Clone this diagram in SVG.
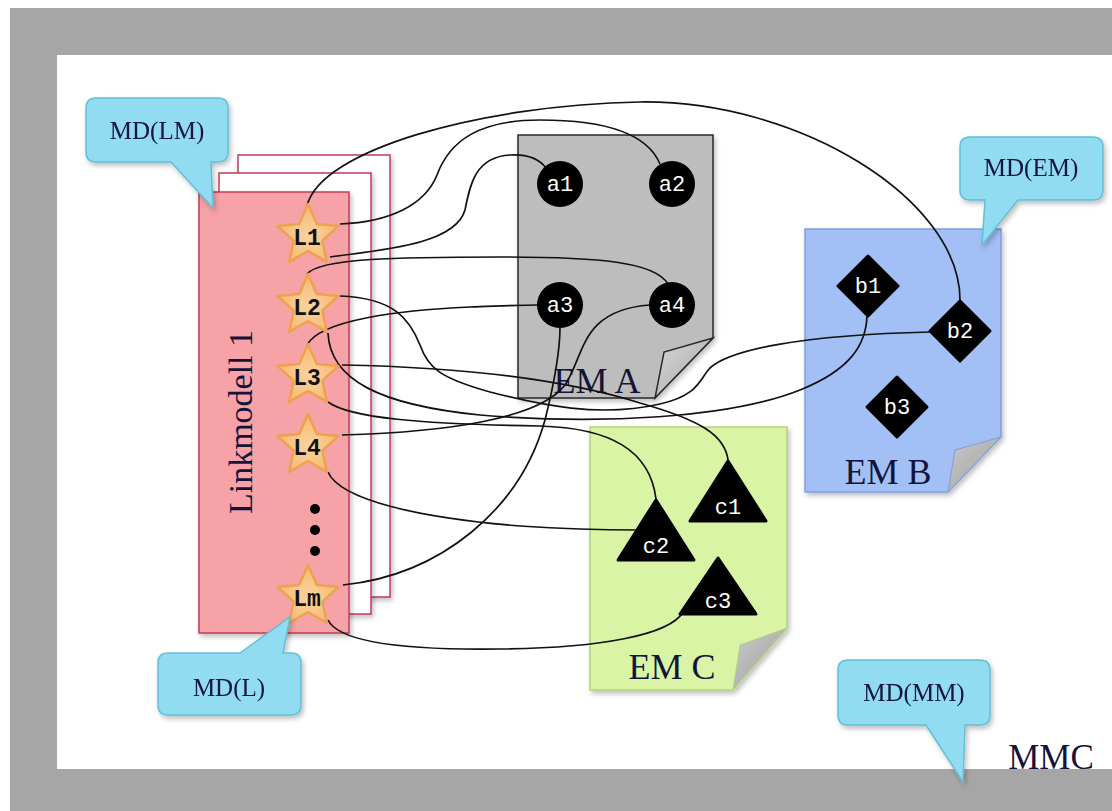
<svg xmlns="http://www.w3.org/2000/svg" width="1112" height="811" viewBox="0 0 1112 811">
<defs>
<style>
.lbl{font-family:"Liberation Serif","Times New Roman",serif;fill:#14143a}
.md{font-size:25px;text-anchor:middle}
.em{font-size:36px;text-anchor:middle}
.mono{font-family:"Liberation Mono","Courier New",monospace;text-anchor:middle}
.wl{fill:#ffffff;font-size:22px}
.sl{fill:#111;font-size:23px;font-weight:bold}
.con{fill:none;stroke:#111;stroke-width:1.7}
.call{fill:#92dcf2;stroke:#62bfd6;stroke-width:1.5}
.star{stroke:#eea24e;stroke-width:2.5;stroke-linejoin:round}
.page{stroke:#c23a5c;stroke-width:1.5}
.blk{fill:#000;stroke:#000;stroke-width:3;stroke-linejoin:round}
</style>
<filter id="sh" x="-10%" y="-10%" width="130%" height="130%">
<feDropShadow dx="2" dy="3" stdDeviation="2.5" flood-color="#000" flood-opacity="0.25"/>
</filter>
<linearGradient id="flapA" x1="0" y1="0" x2="1" y2="1"><stop offset="0" stop-color="#d6d6d6"/><stop offset="1" stop-color="#a8a8a8"/></linearGradient>
<linearGradient id="flapB" x1="0" y1="0" x2="1" y2="1"><stop offset="0" stop-color="#c9c9c9"/><stop offset="1" stop-color="#a0a0a0"/></linearGradient>
<radialGradient id="starG" cx="0.5" cy="0.55" r="0.6"><stop offset="0" stop-color="#fbd39e"/><stop offset="1" stop-color="#f4b56e"/></radialGradient>
<polygon id="starP" points="0,-32 8.8,-12.1 30.4,-9.9 14.3,4.6 18.8,25.9 0,15 -18.8,25.9 -14.3,4.6 -30.4,-9.9 -8.8,-12.1"/>
</defs>

<g id="frame">
<rect x="0" y="0" width="1112" height="811" fill="#ffffff"/>
<rect x="10" y="8" width="1102" height="803" fill="#a6a6a6"/>
<rect x="57" y="55" width="1055" height="714" fill="#ffffff"/>
<text class="lbl" x="1051" y="769" font-size="35" text-anchor="middle">MMC</text>
</g>

<g id="linkmodell">
<rect class="page" x="238" y="155" width="152" height="442" fill="#ffffff" filter="url(#sh)"/>
<rect class="page" x="219" y="173" width="152" height="441" fill="#ffffff" filter="url(#sh)"/>
<rect class="page" x="199" y="192" width="150" height="441" fill="#f6a2a6" filter="url(#sh)"/>
<text class="lbl" font-size="34" text-anchor="middle" transform="translate(252,422) rotate(-90)">Linkmodell 1</text>
<circle cx="315" cy="509" r="5" fill="#000"/>
<circle cx="315" cy="530" r="5" fill="#000"/>
<circle cx="315" cy="551" r="5" fill="#000"/>
</g>

<g id="emA">
<path d="M518,135 H713 V338 L655,398 H518 Z" fill="#bdbdbd" stroke="#2a2a2a" stroke-width="1.5" filter="url(#sh)"/>
<path d="M713,338 L664,352 L655,398 Z" fill="url(#flapA)" stroke="#2a2a2a" stroke-width="1.5"/>
<text class="lbl em" x="597" y="393">EM A</text>
</g>

<g id="emB">
<path d="M805,229 H1001 V437 L948,492 H805 Z" fill="#a2c0f6" stroke="#7f9fdc" stroke-width="1.5" filter="url(#sh)"/>
<path d="M1001,437 L955,450 L948,492 Z" fill="url(#flapB)" stroke="#7f9fdc" stroke-width="1"/>
<text class="lbl em" x="888" y="484">EM B</text>
</g>

<g id="emC">
<path d="M590,427 H787 V628 L733,690 H590 Z" fill="#d8f4a4" stroke="#b2d47a" stroke-width="1.5" filter="url(#sh)"/>
<path d="M787,628 L740,645 L733,690 Z" fill="url(#flapB)" stroke="#b2d47a" stroke-width="1"/>
<text class="lbl em" x="672" y="679">EM C</text>
</g>

<g id="connectors">
<path class="con" d="M307,206 C 320,150 480,105 640,102 C 800,100 960,200 960,300"/>
<path class="con" d="M340,224 C 390,222 425,205 437,175 C 450,140 480,120 540,120 C 610,120 648,135 660,164"/>
<path class="con" d="M330,257 C 380,250 455,245 465,210 C 470,185 475,157 510,155 C 528,154 540,160 546,168"/>
<path class="con" d="M307,274 C 320,258 400,257 500,257 C 600,257 655,262 668,284"/>
<path class="con" d="M340,296 C 395,298 410,320 420,345 C 428,368 440,378 490,392 C 540,405 600,418 660,404 C 700,395 700,378 710,368 C 730,350 800,335 930,332"/>
<path class="con" d="M328,333 C 330,380 380,405 480,415 C 600,425 730,418 800,390 C 850,370 866,345 867,316"/>
<path class="con" d="M307,345 C 320,320 400,310 470,307 C 500,306 520,305 538,305"/>
<path class="con" d="M342,365 C 450,367 560,378 640,403 C 700,420 725,435 728,460"/>
<path class="con" d="M328,402 C 350,418 420,424 540,426 C 610,428 650,450 656,499"/>
<path class="con" d="M342,435 C 450,432 540,418 565,385 C 585,355 580,310 650,305"/>
<path class="con" d="M328,472 C 340,500 420,518 520,526 C 580,530 620,530 638,530"/>
<path class="con" d="M343,585 C 440,575 520,510 545,420 C 555,380 560,350 560,327"/>
<path class="con" d="M328,620 C 340,645 420,650 500,649 C 600,648 670,635 683,612"/>
</g>

<g id="L1"><use href="#starP" transform="translate(308,236)" class="star" fill="url(#starG)"/><text class="mono sl" x="307" y="245">L1</text></g>
<g id="L2"><use href="#starP" transform="translate(308,306)" class="star" fill="url(#starG)"/><text class="mono sl" x="307" y="315">L2</text></g>
<g id="L3"><use href="#starP" transform="translate(308,376)" class="star" fill="url(#starG)"/><text class="mono sl" x="307" y="385">L3</text></g>
<g id="L4"><use href="#starP" transform="translate(308,446)" class="star" fill="url(#starG)"/><text class="mono sl" x="307" y="455">L4</text></g>
<g id="Lm"><use href="#starP" transform="translate(308,597)" class="star" fill="url(#starG)"/><text class="mono sl" x="307" y="606">Lm</text></g>

<g id="a1"><circle cx="560" cy="184" r="23" fill="#000"/><text class="mono wl" x="560" y="191">a1</text></g>
<g id="a2"><circle cx="672" cy="184" r="23" fill="#000"/><text class="mono wl" x="672" y="191">a2</text></g>
<g id="a3"><circle cx="560" cy="305" r="23" fill="#000"/><text class="mono wl" x="560" y="312">a3</text></g>
<g id="a4"><circle cx="672" cy="305" r="23" fill="#000"/><text class="mono wl" x="672" y="312">a4</text></g>

<g id="b1"><polygon class="blk" points="868,256 898,286 868,316 838,286"/><text class="mono wl" x="868" y="293">b1</text></g>
<g id="b2"><polygon class="blk" points="960,301 990,331 960,361 930,331"/><text class="mono wl" x="960" y="338">b2</text></g>
<g id="b3"><polygon class="blk" points="897,377 927,407 897,437 867,407"/><text class="mono wl" x="897" y="414">b3</text></g>

<g id="c1"><polygon class="blk" points="728,461 766,521 690,521"/><text class="mono wl" x="728" y="514">c1</text></g>
<g id="c2"><polygon class="blk" points="656,500 694,560 618,560"/><text class="mono wl" x="656" y="553">c2</text></g>
<g id="c3"><polygon class="blk" points="718,558 756,614 680,614"/><text class="mono wl" x="718" y="608">c3</text></g>

<g id="mdLM" filter="url(#sh)"><path class="call" d="M96,98 H218 Q228,98 228,108 V152 Q228,162 218,162 H211 L213,208 L171,162 H96 Q86,162 86,152 V108 Q86,98 96,98 Z"/><text class="lbl md" x="157" y="139">MD(LM)</text></g>
<g id="mdEM" filter="url(#sh)"><path class="call" d="M970,137 H1093 Q1103,137 1103,147 V190 Q1103,200 1093,200 H1018 L982,245 L985,200 H970 Q960,200 960,190 V147 Q960,137 970,137 Z"/><text class="lbl md" x="1031" y="176">MD(EM)</text></g>
<g id="mdL" filter="url(#sh)"><path class="call" d="M168,653 H240 L290,617 L283,653 H291 Q301,653 301,663 V705 Q301,715 291,715 H168 Q158,715 158,705 V663 Q158,653 168,653 Z"/><text class="lbl md" x="229" y="696">MD(L)</text></g>
<g id="mdMM" filter="url(#sh)"><path class="call" d="M848,660 H980 Q990,660 990,670 V715 Q990,725 980,725 H965 L963,782 L926,725 H848 Q838,725 838,715 V670 Q838,660 848,660 Z"/><text class="lbl md" x="914" y="701">MD(MM)</text></g>
</svg>
